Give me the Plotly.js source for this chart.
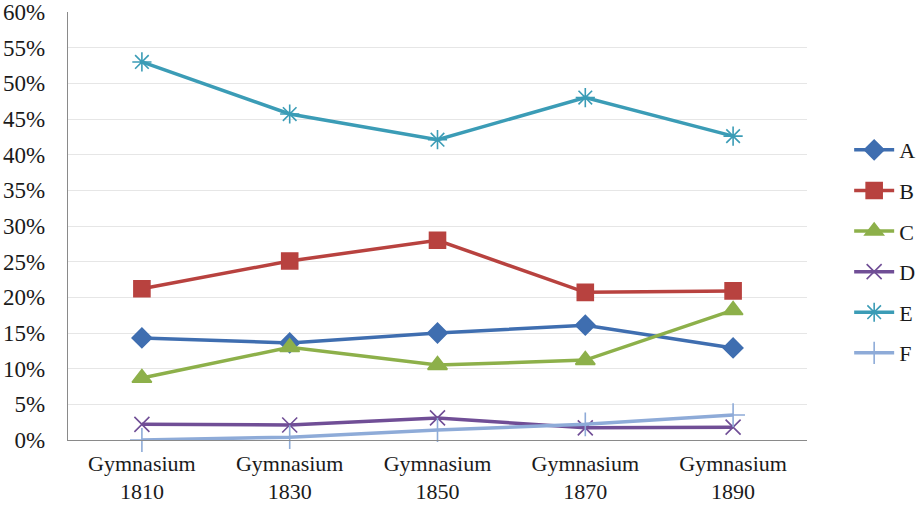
<!DOCTYPE html>
<html>
<head>
<meta charset="utf-8">
<script src="https://cdn.plot.ly/plotly-3.0.1.min.js"></script>
<style>
  html, body { margin: 0; padding: 0; background: #fff; }
  #chart { width: 922px; height: 506px; }
</style>
</head>
<body>
<div id="chart"></div>
<script>
// Category labels (school cohorts)
var categories = ["Gymnasium<br>1810", "Gymnasium<br>1830", "Gymnasium<br>1850", "Gymnasium<br>1870", "Gymnasium<br>1890"];

// Shares per group (fractions)
var seriesA = [0.143, 0.136, 0.150, 0.161, 0.129];
var seriesB = [0.212, 0.251, 0.280, 0.207, 0.209];
var seriesC = [0.087, 0.130, 0.105, 0.112, 0.182];
var seriesD = [0.022, 0.021, 0.031, 0.017, 0.018];
var seriesE = [0.530, 0.457, 0.421, 0.480, 0.426];
var seriesF = [0.000, 0.004, 0.014, 0.022, 0.035];

var seriesNames = ["A", "B", "C", "D", "E", "F"];

var serif = "Liberation Serif, Times New Roman, serif";

function line(name, y, color, symbol, size, group) {
  return {
    type: "scatter",
    mode: "lines+markers",
    name: name,
    x: categories,
    y: y,
    legendgroup: group,
    cliponaxis: false,
    line: { color: color, width: 3.5 },
    marker: { symbol: symbol, size: size, color: color, line: { color: color, width: 1.6 } }
  };
}

var traces = [
  line(seriesNames[0], seriesA, "#3F6EB0", "diamond", 15, "g1"),
  line(seriesNames[1], seriesB, "#B8423F", "square", 16, "g2"),
  line(seriesNames[2], seriesC, "#8DB04A", "triangle-up", 17, "g3"),
  line(seriesNames[3], seriesD, "#704E96", "x-thin-open", 15, "g4"),
  line(seriesNames[4], seriesE, "#3B9CB6", "asterisk-open", 16, "g5"),
  line(seriesNames[5], seriesF, "#8EABD8", "cross-thin-open", 17, "g6")
];

var layout = {
  width: 922,
  height: 506,
  margin: { l: 68, r: 115, t: 12, b: 66 },
  paper_bgcolor: "#ffffff",
  plot_bgcolor: "#ffffff",
  font: { family: serif, size: 22, color: "#1a1a1a" },
  showlegend: true,
  legend: {
    xref: "container",
    yref: "container",
    x: 0.921, xanchor: "left",
    y: 0.745, yanchor: "top",
    traceorder: "grouped",
    tracegroupgap: 9,
    itemwidth: 40,
    font: { family: serif, size: 22, color: "#1a1a1a" },
    bgcolor: "rgba(0,0,0,0)"
  },
  xaxis: {
    type: "category",
    range: [-0.5, 4.5],
    automargin: false,
    showgrid: false,
    showline: true,
    linecolor: "#8a8a8a",
    linewidth: 1.2,
    ticks: "",
    ticklabelstandoff: 3,
    tickfont: { family: serif, size: 22 },
    zeroline: false,
    fixedrange: true
  },
  yaxis: {
    range: [0, 0.6],
    dtick: 0.05,
    tick0: 0,
    tickformat: ".0%",
    automargin: false,
    showgrid: true,
    gridcolor: "#e6e6e6",
    gridwidth: 1,
    showline: true,
    linecolor: "#8a8a8a",
    linewidth: 1.2,
    zeroline: false,
    ticks: "",
    ticklabelstandoff: 17,
    tickfont: { family: serif, size: 23 },
    fixedrange: true
  }
};

Plotly.newPlot("chart", traces, layout, { displayModeBar: false, staticPlot: true });
</script>
</body>
</html>
